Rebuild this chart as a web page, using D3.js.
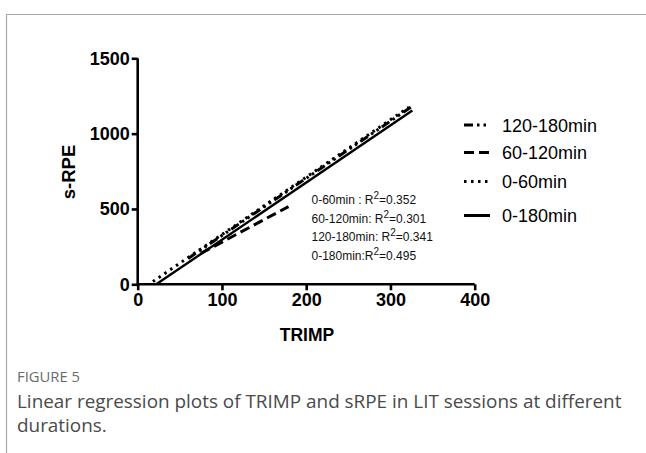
<!DOCTYPE html>
<html><head><meta charset="utf-8">
<script src="https://cdn.jsdelivr.net/npm/d3@7"></script>
<style>body{margin:0;background:#fff}svg{display:block}</style>
</head><body>
<script>
// Data: regression line endpoints [TRIMP, sRPE]
const seriesNames = ["120-180min", "60-120min", "0-60min", "0-180min"];
const line120_180 = [[60, 172], [326, 1182]];
const line60_120 = [[75, 205], [179, 516]];
const line0_60 = [[18, 18], [322, 1176]];
const line0_180 = [[22, 0], [326, 1153]];
const xTicks = [0, 100, 200, 300, 400];
const yTicks = [0, 500, 1000, 1500];
const r2Labels = [["0-60min : R", "=0.352"], ["60-120min: R", "=0.301"], ["120-180min: R", "=0.341"], ["0-180min:R", "=0.495"]];

const W = 646, H = 453;
const svg = d3.select("body").append("svg").attr("width", W).attr("height", H);

// frame
svg.append("path").attr("d", `M6.5,${H} V14.5 H${W}`).attr("fill", "none").attr("stroke", "#a8a8a8").attr("stroke-width", 1.2);

const x = d3.scaleLinear().domain([0, 400]).range([137.7, 474.7]);
const y = d3.scaleLinear().domain([0, 1500]).range([284.3, 58.3]);

const font = "Liberation Sans, Arial, sans-serif";
const fmt = d3.format("d");

const xAxis = svg.append("g").attr("transform", `translate(0,${y(0)})`)
  .call(d3.axisBottom(x).tickValues(xTicks).tickFormat(fmt).tickSize(6).tickPadding(3));
const yAxis = svg.append("g").attr("transform", `translate(${x(0)},0)`)
  .call(d3.axisLeft(y).tickValues(yTicks).tickFormat(fmt).tickSize(6).tickPadding(2));
[xAxis, yAxis].forEach(g => {
  g.select(".domain").attr("stroke", "#000").attr("stroke-width", 2.6);
  g.selectAll(".tick line").attr("stroke", "#000").attr("stroke-width", 2.6);
  g.selectAll(".tick text").attr("fill", "#000").style("font-family", font).style("font-weight", "bold").style("font-size", "18px");
});
xAxis.select(".domain").attr("d", `M${x(0)},0H${x(400)}`);
yAxis.select(".domain").attr("d", `M0,${y(0)}V${y(1500)}`);

svg.append("text").attr("x", 307).attr("y", 341).attr("text-anchor", "middle")
  .style("font-family", font).style("font-weight", "bold").style("font-size", "17.5px").text("TRIMP");
svg.append("text").attr("transform", "translate(75,172) rotate(-90)").attr("text-anchor", "middle")
  .style("font-family", font).style("font-weight", "bold").style("font-size", "18.5px").text("s-RPE");

const styles = {
  "120-180min": "9,4,2.5,4,2.5,4",
  "60-120min": "10,5",
  "0-60min": "2.5,4.5",
  "0-180min": null
};
const data = {"120-180min": line120_180, "60-120min": line60_120, "0-60min": line0_60, "0-180min": line0_180};
const lineGen = d3.line().x(d => x(d[0])).y(d => y(d[1]));

["0-60min", "120-180min", "60-120min", "0-180min"].forEach(n => {
  svg.append("path").datum(data[n]).attr("d", lineGen).attr("fill", "none")
    .attr("stroke", "#000").attr("stroke-width", n === "0-180min" ? 2.4 : 3)
    .attr("stroke-dasharray", styles[n]);
});

// legend
const legY = [125, 152.5, 181.5, 215.5];
seriesNames.forEach((n, i) => {
  const g = svg.append("g").attr("transform", `translate(0,${legY[i]})`);
  g.append("line").attr("x1", 464).attr("x2", 490).attr("y1", 0).attr("y2", 0)
    .attr("stroke", "#000").attr("stroke-width", 3).attr("stroke-dasharray", styles[n] || null);
  g.append("text").attr("x", 502).attr("y", 6.5).style("font-family", font).style("font-size", "18px").text(n);
});

// R² annotations
const annY = [204, 222.5, 241, 259.5];
r2Labels.forEach((t, i) => {
  const tx = svg.append("text").attr("x", 311.5).attr("y", annY[i]).style("font-family", font).style("font-size", "12px").attr("fill", "#111");
  tx.append("tspan").text(t[0]);
  tx.append("tspan").attr("dy", -5).style("font-size", "10px").text("2");
  tx.append("tspan").attr("dy", 5).text(t[1]);
});

// caption
const cfont = "Open Sans, Noto Sans, sans-serif";
svg.append("text").attr("x", 17).attr("y", 382).style("font-family", cfont).style("font-size", "14.8px").attr("fill", "#6b6b6b").text("FIGURE 5");
svg.append("text").attr("x", 17).attr("y", 408).style("font-family", cfont).style("font-size", "18.9px").attr("fill", "#4a4a4a").text("Linear regression plots of TRIMP and sRPE in LIT sessions at different");
svg.append("text").attr("x", 17).attr("y", 432).style("font-family", cfont).style("font-size", "18.9px").attr("fill", "#4a4a4a").text("durations.");
</script>
</body></html>
